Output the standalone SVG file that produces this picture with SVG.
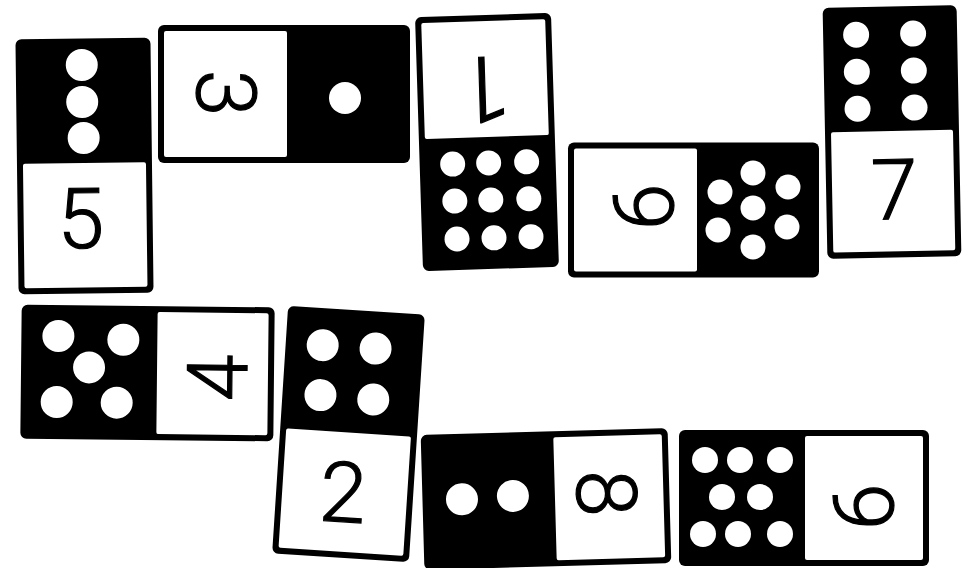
<svg xmlns="http://www.w3.org/2000/svg" width="970" height="568" viewBox="0 0 970 568">
<style>
.body{fill:#000}
.face{fill:#fff}
.pip{fill:#fff}
.num{font-family:Roboto,"Liberation Sans",sans-serif;font-weight:300;font-size:84px;fill:#000;stroke:#000;stroke-width:1.2;text-anchor:middle}
</style>
<rect width="970" height="568" fill="#fff"/>
<g id="domino1" transform="rotate(-0.7 84.5 166)">
<rect class="body" x="17" y="38.5" width="135" height="255" rx="6"/>
<rect class="face" x="23" y="163" width="123" height="124.5" rx="2"/>
<circle class="pip" cx="83" cy="65" r="16"/><circle class="pip" cx="83" cy="102" r="16"/><circle class="pip" cx="84" cy="138" r="16"/>
<text class="num" x="80" y="248">5</text>
</g>
<g id="domino2">
<rect class="body" x="158" y="25" width="252" height="138" rx="6"/>
<rect class="face" x="164" y="31" width="123" height="126" rx="2"/>
<circle class="pip" cx="345" cy="98" r="16"/>
<g transform="translate(227 93) rotate(90)"><text class="num" x="0" y="30">3</text></g>
</g>
<g id="domino3" transform="rotate(-1.8 487 142)">
<rect class="body" x="419" y="15" width="136" height="254" rx="6"/>
<rect class="face" x="425" y="21" width="124" height="116" rx="2"/>
<circle class="pip" cx="452" cy="163" r="12.5"/><circle class="pip" cx="488" cy="163" r="12.5"/><circle class="pip" cx="526" cy="163" r="12.5"/>
<circle class="pip" cx="453" cy="200" r="12.5"/><circle class="pip" cx="489" cy="200" r="12.5"/><circle class="pip" cx="527" cy="200" r="12.5"/>
<circle class="pip" cx="454" cy="238" r="12.5"/><circle class="pip" cx="491" cy="238" r="12.5"/><circle class="pip" cx="528" cy="238" r="12.5"/>
<g transform="translate(487 87) rotate(180)"><text class="num" x="0" y="30" style="font-size:92px">1</text></g>
</g>
<g id="domino4">
<rect class="body" x="568" y="142.5" width="251" height="135" rx="6"/>
<rect class="face" x="574" y="148.5" width="123" height="123" rx="2"/>
<circle class="pip" cx="753" cy="173" r="12.5"/><circle class="pip" cx="720" cy="192" r="12.5"/><circle class="pip" cx="788" cy="187" r="12.5"/>
<circle class="pip" cx="753" cy="208" r="12.5"/><circle class="pip" cx="718" cy="230" r="12.5"/><circle class="pip" cx="787" cy="227" r="12.5"/>
<circle class="pip" cx="753" cy="247" r="12.5"/>
<g transform="translate(643 207) rotate(-90)"><text class="num" x="0" y="30">6</text></g>
</g>
<g id="domino5" transform="rotate(-1.1 892 132)">
<rect class="body" x="825" y="6.5" width="134" height="251" rx="6"/>
<rect class="face" x="831" y="131" width="122" height="120.5" rx="2"/>
<circle class="pip" cx="858" cy="34" r="13"/><circle class="pip" cx="915" cy="34" r="13"/>
<circle class="pip" cx="858" cy="71" r="13"/><circle class="pip" cx="915" cy="71" r="13"/>
<circle class="pip" cx="858" cy="108" r="13"/><circle class="pip" cx="915" cy="108" r="13"/>
<text class="num" x="893" y="219">7</text>
</g>
<g id="domino6" transform="rotate(0.6 147.5 373)">
<rect class="body" x="21" y="306" width="253" height="134" rx="6"/>
<rect class="face" x="157" y="312" width="111" height="122" rx="2"/>
<circle class="pip" cx="58" cy="337" r="16"/><circle class="pip" cx="123" cy="340" r="16"/>
<circle class="pip" cx="89" cy="368" r="16"/>
<circle class="pip" cx="57" cy="403" r="16"/><circle class="pip" cx="117" cy="403" r="16"/>
<g transform="translate(217 377) rotate(-90)"><text class="num" x="0" y="30">4</text></g>
</g>
<g id="domino7" transform="rotate(3.7 348.5 434)">
<rect class="body" x="280" y="310" width="137" height="248" rx="6"/>
<rect class="face" x="286" y="432.5" width="125" height="119.5" rx="2"/>
<circle class="pip" cx="317" cy="347" r="16"/><circle class="pip" cx="370" cy="347" r="16"/>
<circle class="pip" cx="318" cy="397" r="16"/><circle class="pip" cx="371" cy="398" r="16"/>
<text class="num" x="347" y="522">2</text>
</g>
<g id="domino8" transform="rotate(-1.6 546 499)">
<rect class="body" x="422.5" y="431.5" width="247" height="135" rx="6"/>
<rect class="face" x="555" y="437.5" width="108.5" height="123" rx="2"/>
<circle class="pip" cx="462" cy="497" r="16"/><circle class="pip" cx="513" cy="495" r="16"/>
<g transform="translate(607 495) rotate(90)"><text class="num" x="0" y="30">8</text></g>
</g>
<g id="domino9">
<rect class="body" x="679" y="430" width="250" height="136" rx="6"/>
<rect class="face" x="805" y="436" width="118" height="124" rx="2"/>
<circle class="pip" cx="705" cy="460" r="13"/><circle class="pip" cx="740" cy="460" r="13"/><circle class="pip" cx="780" cy="460" r="13"/>
<circle class="pip" cx="722" cy="497" r="13"/><circle class="pip" cx="760" cy="497" r="13"/>
<circle class="pip" cx="703" cy="534" r="13"/><circle class="pip" cx="738" cy="534" r="13"/><circle class="pip" cx="780" cy="534" r="13"/>
<g transform="translate(863 507) rotate(-90)"><text class="num" x="0" y="30">6</text></g>
</g>
</svg>
